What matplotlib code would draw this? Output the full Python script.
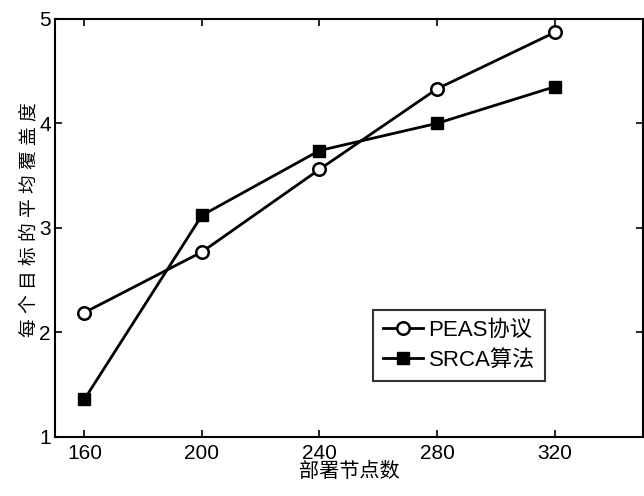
import numpy as np
import matplotlib
matplotlib.use('Agg')
import matplotlib.pyplot as plt

plt.rcParams['font.family'] = ['Liberation Sans', 'Noto Sans CJK SC', 'DejaVu Sans']

#data
nodes = [160, 200, 240, 280, 320]
peas = [2.19, 2.77, 3.56, 4.33, 4.87]
srca = [1.36, 3.12, 3.74, 4.00, 4.35]

fig = plt.figure(figsize=(6.44, 4.96), dpi=100)
ax = fig.add_axes([0.0854, 0.119, 0.9126, 0.843])

ax.plot(nodes, peas, 'k-o', lw=2, ms=9, mfc='white', mew=1.8, label='PEAS协议')
ax.plot(nodes, srca, 'k-s', lw=2, ms=9, label='SRCA算法')

ax.set_xlim(150, 350)
ax.set_ylim(1, 5)
ax.set_xticks(nodes)
ax.set_yticks([1, 2, 3, 4, 5])
ax.tick_params(direction='in', top=True, right=True, labelsize=15, length=5, width=1.2)
ax.tick_params(axis='y', pad=3)
ax.tick_params(axis='x', pad=5)
for s in ax.spines.values():
    s.set_linewidth(1.5)

ax.set_xlabel('部署节点数', fontsize=14.5, labelpad=-1)
#spread characters like the original
ax.set_ylabel(' '.join('每个目标的平均覆盖度'), fontsize=13.5)
ax.yaxis.set_label_coords(-0.028, 0.52)

leg = ax.legend(loc='lower left', bbox_to_anchor=(0.541, 0.134), fontsize=16,
                frameon=True, fancybox=False, edgecolor='k', handlelength=1.8,
                borderpad=0.45, labelspacing=0.4, handletextpad=0.25,
                borderaxespad=0)
leg.get_frame().set_linewidth(1.5)

plt.savefig('out.png', dpi=100)
